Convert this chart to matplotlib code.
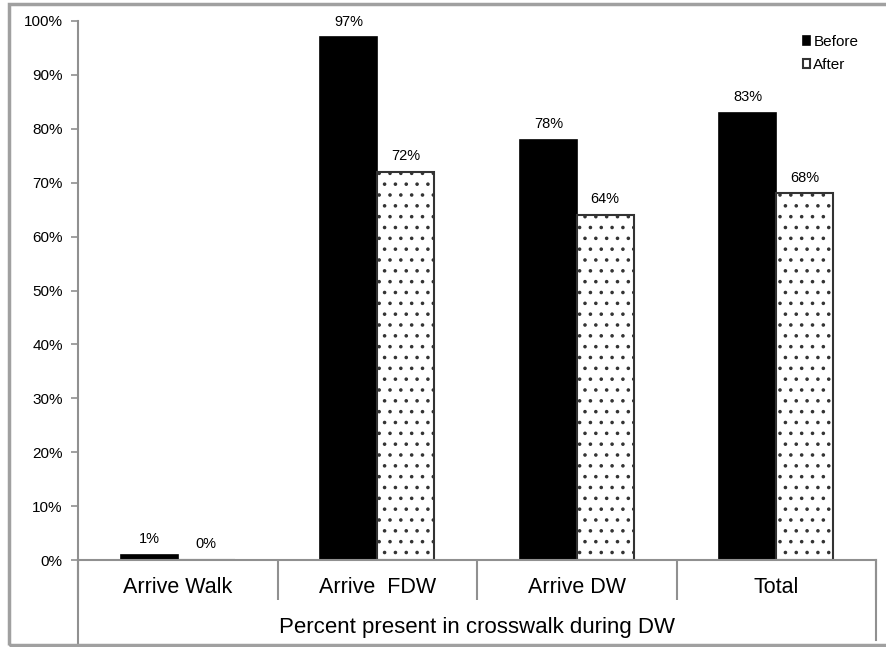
import numpy as np
import matplotlib.pyplot as plt
from matplotlib.patches import Rectangle
import matplotlib.transforms as mtransforms

categories = ['Arrive Walk', 'Arrive  FDW', 'Arrive DW', 'Total']
before = [1, 97, 78, 83]
after = [0, 72, 64, 68]
y_ticks = [0, 10, 20, 30, 40, 50, 60, 70, 80, 90, 100]
group_title = 'Percent present in crosswalk during DW'

# higher dpi makes the dot hatch a bit coarser; sizes below are scaled back
DPI = 130
k = 100 / DPI

plt.rcParams['font.family'] = ['Liberation Sans', 'DejaVu Sans']
plt.rcParams['hatch.linewidth'] = 1.0 * k
plt.rcParams['hatch.color'] = '#222222'

fig = plt.figure(figsize=(886 / DPI, 647 / DPI), dpi=DPI)
fig.patches.append(Rectangle((9 / 886, 1 - 645 / 647), 1.0, 641 / 647,
                             transform=fig.transFigure, fill=False,
                             edgecolor='#a0a0a0', linewidth=2.5 * k))

ax = fig.add_axes([78 / 886, 1 - 560 / 647, 798 / 886, 539 / 647])

x = np.arange(len(categories))
w = 0.285
b1 = ax.bar(x - w / 2, before, w, color='black', edgecolor='black', linewidth=1.2 * k, label='Before')
b2 = ax.bar(x + w / 2, after, w, color='white', edgecolor='#333333', linewidth=1.5 * k,
            hatch='..', label='After')

for rect, v in zip(list(b1) + list(b2), before + after):
    ax.text(rect.get_x() + rect.get_width() / 2, rect.get_height() + 1.6, f'{v}%',
            ha='center', va='bottom', fontsize=10.5 * k)

ax.set_xlim(-0.5, len(categories) - 0.5)
ax.set_ylim(0, 100)
ax.set_yticks(y_ticks)
ax.set_yticklabels([f'{t}%' for t in y_ticks], fontsize=11 * k)
ax.tick_params(axis='y', length=5 * k, color='#909090', width=1.2 * k, pad=6 * k)

for s in ['top', 'right']:
    ax.spines[s].set_visible(False)
for s in ['left', 'bottom']:
    ax.spines[s].set_color('#909090')
    ax.spines[s].set_linewidth(1.5 * k)

# two-level category axis
ax.set_xticks(np.arange(-0.5, len(categories), 1.0))
ax.set_xticklabels([])
ax.tick_params(axis='x', which='major', length=29 * k, color='#909090', width=1.5 * k, direction='out')
ax.set_xticks(x, minor=True)
ax.set_xticklabels(categories, minor=True, fontsize=15.5 * k)
ax.tick_params(axis='x', which='minor', length=0, pad=12 * k)

trans = mtransforms.blended_transform_factory(ax.transData, ax.transAxes)
ax.plot([-0.5, -0.5], [0, -83 / 539], transform=trans, color='#909090', lw=1.5 * k, clip_on=False)
ax.plot([len(categories) - 0.5] * 2, [0, -80 / 539], transform=trans, color='#909090', lw=1.5 * k, clip_on=False)
ax.text(0.5, -67 / 539, group_title, transform=ax.transAxes, ha='center', va='center', fontsize=16 * k)

ax.legend(loc='upper right', bbox_to_anchor=(0.995, 1.0), frameon=False, fontsize=11 * k,
          handlelength=0.5, handleheight=0.5, handletextpad=0.2, labelspacing=0.6)

fig.savefig('out.png', dpi=DPI)
